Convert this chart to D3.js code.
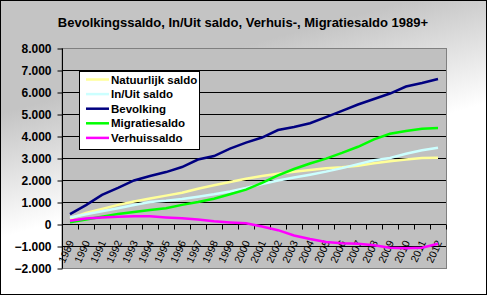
<!DOCTYPE html>
<html>
<head>
<meta charset="utf-8">
<script src="https://cdn.jsdelivr.net/npm/d3@7"></script>
<style>
	body { margin: 0; padding: 0; background: #fff; }
	svg { display: block; font-family: "Liberation Sans", Arial, sans-serif; }
</style>
</head>
<body>
<div id="chart"></div>
<script>

// categories (years)
var years = ["1989","1990","1991","1992","1993","1994","1995","1996","1997","1998","1999","2000",
	"2001","2002","2003","2004","2005","2006","2007","2008","2009","2010","2011","2012"];

// series values
var natuurlijk = [250,500,680,870,1020,1160,1290,1420,1600,1760,1910,2060,
	2180,2280,2380,2450,2530,2580,2650,2760,2850,2930,3000,3010];
var inUit = [300,440,580,720,860,1000,1060,1140,1240,1350,1480,1640,
	1820,1980,2110,2240,2380,2540,2720,2900,3000,3190,3350,3470];
var bevolking = [450,860,1320,1640,1980,2180,2360,2590,2930,3090,3430,3700,
	3930,4270,4410,4580,4860,5140,5430,5680,5930,6250,6410,6590];
var migratie = [80,200,330,450,550,640,720,870,1000,1150,1350,1560,
	1870,2210,2500,2750,2970,3230,3510,3850,4100,4230,4330,4360];
var verhuis = [150,250,300,330,350,350,300,260,200,120,70,30,
	-110,-280,-520,-680,-820,-880,-900,-970,-1080,-1100,-1080,-900];

var seriesNames = ["Natuurlijk saldo", "In/Uit saldo", "Bevolking", "Migratiesaldo", "Verhuissaldo"];
var seriesColors = ["#ffff99", "#ccffff", "#000080", "#00ff00", "#ff00ff"];
var seriesValues = [natuurlijk, inUit, bevolking, migratie, verhuis];

// y tick values
var yTicks = [-2000,-1000,0,1000,2000,3000,4000,5000,6000,7000,8000];

var W = 487, H = 295;
var plot = {left: 62, right: 446, top: 48, bottom: 268};

var svg = d3.select("#chart")
	.append("svg")
	.attr("width", W)
	.attr("height", H);

// background gradient
var defs = svg.append("defs");
var grad = defs.append("linearGradient")
	.attr("id", "bg")
	.attr("x1", "0.84").attr("y1", "0")
	.attr("x2", "1").attr("y2", "0.35");
grad.append("stop").attr("offset", "0").attr("stop-color", "#c4c4c4");
grad.append("stop").attr("offset", "1").attr("stop-color", "#ffffff");

svg.append("rect")
	.attr("x", 0.5).attr("y", 0.5)
	.attr("width", W - 1).attr("height", H - 1)
	.attr("fill", "url(#bg)")
	.attr("stroke", "#000");

// title
svg.append("text")
	.attr("x", 243)
	.attr("y", 27)
	.attr("text-anchor", "middle")
	.style("font-size", "13px")
	.style("font-weight", "bold")
	.text("Bevolkingssaldo, In/Uit saldo, Verhuis-, Migratiesaldo 1989+");

// scales
var x = d3.scaleBand()
	.domain(years)
	.range([plot.left, plot.right]);

var y = d3.scaleLinear()
	.domain([-2000, 8000])
	.range([plot.bottom, plot.top]);

// plot area
svg.append("rect")
	.attr("x", plot.left)
	.attr("y", plot.top + 0.5)
	.attr("width", plot.right - plot.left + 0.5)
	.attr("height", plot.bottom - plot.top)
	.attr("fill", "#c0c0c0")
	.attr("stroke", "#808080");

// gridlines
svg.append("g")
	.selectAll("line")
	.data(yTicks.filter(function(d) { return d > -2000 && d < 8000; }))
	.enter()
	.append("line")
	.attr("x1", plot.left)
	.attr("x2", plot.right)
	.attr("y1", function(d) { return Math.round(y(d)) + 0.5; })
	.attr("y2", function(d) { return Math.round(y(d)) + 0.5; })
	.attr("stroke", "#000");

// y axis
var yAxis = d3.axisLeft(y)
	.tickValues(yTicks)
	.tickSize(5)
	.tickPadding(6)
	.tickFormat(function(d) { return d3.format(",")(d).replace(/,/g, "."); });

var yg = svg.append("g")
	.attr("transform", "translate(" + (plot.left + 0.5) + ",0.5)")
	.call(yAxis);
yg.select(".domain").attr("d", "M0," + plot.top + "V" + plot.bottom).attr("stroke", "#000");
yg.selectAll("text")
	.style("font-size", "12px")
	.style("font-weight", "bold")
	.style("font-family", "'Liberation Sans', Arial, sans-serif")
	.attr("fill", "#000");

// x axis at zero, ticks between categories
var xg = svg.append("g")
	.attr("transform", "translate(0," + (Math.round(y(0)) + 0.5) + ")");
xg.append("line")
	.attr("x1", plot.left).attr("x2", plot.right)
	.attr("stroke", "#000");
xg.selectAll(".tick")
	.data(years.concat(["end"]))
	.enter()
	.append("line")
	.attr("x1", function(d, i) { return Math.round(plot.left + i * x.step()) + 0.5; })
	.attr("x2", function(d, i) { return Math.round(plot.left + i * x.step()) + 0.5; })
	.attr("y1", 0).attr("y2", 5)
	.attr("stroke", "#000");

svg.append("g")
	.selectAll("text")
	.data(years)
	.enter()
	.append("text")
	.attr("text-anchor", "end")
	.attr("transform", function(d) {
		return "translate(" + (x(d) + x.bandwidth() / 2 + 1) + "," + 241 + ") rotate(-65)";
	})
	.attr("dy", "0.35em")
	.style("font-size", "10.5px")
	.text(function(d) { return d; });

// lines
var line = d3.line()
	.x(function(d, i) { return x(years[i]) + x.bandwidth() / 2; })
	.y(function(d) { return y(d); });

svg.append("g")
	.selectAll("path")
	.data(seriesValues)
	.enter()
	.append("path")
	.attr("d", line)
	.attr("fill", "none")
	.attr("stroke", function(d, i) { return seriesColors[i]; })
	.attr("stroke-width", 2.5);

// legend
var lg = svg.append("g");
lg.append("rect")
	.attr("x", 79.5).attr("y", 71.5)
	.attr("width", 120).attr("height", 78)
	.attr("fill", "#fff")
	.attr("stroke", "#000");

var items = lg.selectAll(".item")
	.data(seriesNames)
	.enter()
	.append("g")
	.attr("transform", function(d, i) { return "translate(0," + (79.5 + i * 14.6) + ")"; });

items.append("line")
	.attr("x1", 86).attr("x2", 109)
	.attr("stroke", function(d, i) { return seriesColors[i]; })
	.attr("stroke-width", 2.5);

items.append("text")
	.attr("x", 111)
	.attr("dy", "0.35em")
	.style("font-size", "11.5px")
	.style("font-weight", "bold")
	.text(function(d) { return d; });

</script>
</body>
</html>
